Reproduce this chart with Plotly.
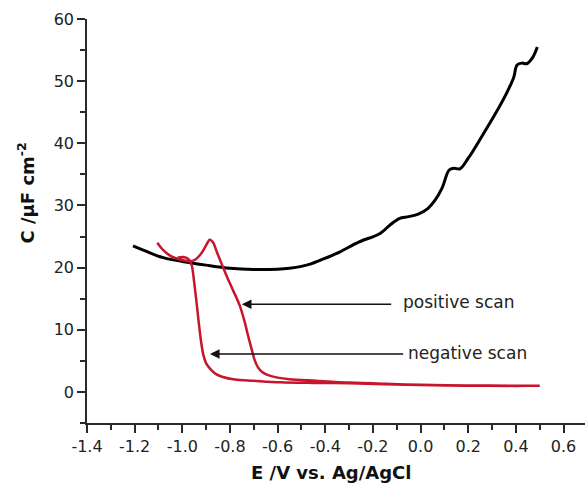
import plotly.graph_objects as go

# Black curve
black_x = [-1.207, -1.15, -1.08, -1.0, -0.9, -0.8, -0.7, -0.6, -0.55, -0.5, -0.46, -0.42, -0.34,
           -0.26, -0.17, -0.13, -0.09, -0.05, -0.01, 0.03, 0.06, 0.09, 0.12, 0.14, 0.165,
           0.2, 0.26, 0.31, 0.36, 0.39, 0.405, 0.425, 0.445, 0.47, 0.49]
black_y = [23.5, 22.6, 21.6, 21.0, 20.4, 19.9, 19.7, 19.75, 19.9, 20.2, 20.6, 21.2, 22.5,
           24.1, 25.5, 26.8, 27.9, 28.2, 28.6, 29.5, 30.8, 32.8, 35.7, 36.0, 35.9,
           37.6, 41.3, 44.5, 48.0, 50.5, 52.6, 52.9, 52.8, 53.8, 55.5]

# Red curve: positive scan then negative scan (closed loop)
red_x = [-1.105, -1.08, -1.05, -1.02, -0.995, -0.97, -0.945, -0.92, -0.9, -0.885, -0.87,
         -0.855, -0.835, -0.81, -0.79, -0.76, -0.74, -0.725, -0.71, -0.697, -0.683, -0.665,
         -0.64, -0.6, -0.55, -0.44, -0.3, -0.15, 0.0, 0.2, 0.4, 0.5,
         0.4, 0.2, 0.0, -0.15, -0.3, -0.45, -0.59, -0.7, -0.78, -0.83, -0.86, -0.88,
         -0.9, -0.912, -0.922, -0.932, -0.942, -0.952, -0.96, -0.972, -0.995, -1.02]
red_y = [24.0, 22.8, 21.9, 21.4, 21.2, 21.0, 21.3, 22.3, 23.6, 24.5, 24.0,
         22.5, 20.6, 18.3, 16.6, 14.0, 11.5, 9.2, 7.0, 5.2, 4.0, 3.2,
         2.7, 2.3, 2.05, 1.8, 1.5, 1.3, 1.15, 1.05, 1.0, 1.0,
         0.97, 1.0, 1.1, 1.25, 1.4, 1.45, 1.55, 1.8, 2.0, 2.4, 2.9, 3.6,
         4.6, 6.0, 8.3, 11.5, 15.0, 18.2, 20.3, 21.3, 21.7, 21.6]

x_tickvals = [-1.4, -1.2, -1.0, -0.8, -0.6, -0.4, -0.2, 0.0, 0.2, 0.4, 0.6]
x_ticktext = ["-1.4", "-1.2", "-1.0", "-0.8", "-0.6", "-0.4", "-0.2", "0.0", "0.2", "0.4", "0.6"]
y_tickvals = [0, 10, 20, 30, 40, 50, 60]
y_ticktext = ["0", "10", "20", "30", "40", "50", "60"]

FONT = "DejaVu Sans"
AX = "#2a2a2a"

fig = go.Figure()
fig.add_trace(go.Scatter(x=black_x, y=black_y, mode="lines",
                         line=dict(color="black", width=3, shape="spline", smoothing=1.0),
                         hoverinfo="skip", showlegend=False))
fig.add_trace(go.Scatter(x=red_x, y=red_y, mode="lines",
                         line=dict(color="#c8142c", width=2.5, shape="spline", smoothing=0.9),
                         hoverinfo="skip", showlegend=False))

common = dict(showline=True, linecolor=AX, linewidth=1.6, ticks="outside", ticklen=8,
              tickwidth=1.6, tickcolor=AX, showgrid=False, zeroline=False,
              tickfont=dict(family=FONT, size=16, color="#222"))

fig.update_xaxes(range=[-1.4, 0.69], tickmode="array", tickvals=x_tickvals, ticktext=x_ticktext,
                 minor=dict(ticks="outside", ticklen=5, tickwidth=1.6, tickcolor=AX,
                            tick0=-1.4, dtick=0.1),
                 **common)
fig.update_yaxes(range=[-5, 60], tickmode="array", tickvals=y_tickvals, ticktext=y_ticktext,
                 minor=dict(ticks="outside", ticklen=5, tickwidth=1.6, tickcolor=AX,
                            tick0=-5, dtick=5),
                 **common)

annotations = [
    dict(x=-0.75, y=14.1, ax=-0.117, ay=14.1, xref="x", yref="y", axref="x", ayref="y",
         text="", showarrow=True, arrowhead=2, arrowsize=1.2, arrowwidth=1.6, arrowcolor="#111"),
    dict(x=-0.884, y=6.1, ax=-0.067, ay=6.1, xref="x", yref="y", axref="x", ayref="y",
         text="", showarrow=True, arrowhead=2, arrowsize=1.2, arrowwidth=1.6, arrowcolor="#111"),
    dict(x=-0.082, y=14.4, xref="x", yref="y", text="positive scan", showarrow=False,
         xanchor="left", yanchor="middle", font=dict(family=FONT, size=17, color="#222")),
    dict(x=-0.062, y=6.3, xref="x", yref="y", text="negative scan", showarrow=False,
         xanchor="left", yanchor="middle", font=dict(family=FONT, size=17, color="#222")),
    dict(x=0.49, y=-0.123, xref="paper", yref="paper", text="<b>E /V vs. Ag/AgCl</b>",
         showarrow=False, xanchor="center", yanchor="middle",
         font=dict(family=FONT, size=18, color="#111")),
    dict(x=-0.123, y=0.57, xref="paper", yref="paper",
         text="<b>C /µF cm<sup>-2</sup></b>", textangle=-90,
         showarrow=False, xanchor="center", yanchor="middle",
         font=dict(family=FONT, size=18, color="#111")),
]

fig.update_layout(width=585, height=485, margin=dict(l=87, r=0, t=19, b=62),
                  paper_bgcolor="white", plot_bgcolor="white",
                  annotations=annotations)

fig.write_html("out.html")
